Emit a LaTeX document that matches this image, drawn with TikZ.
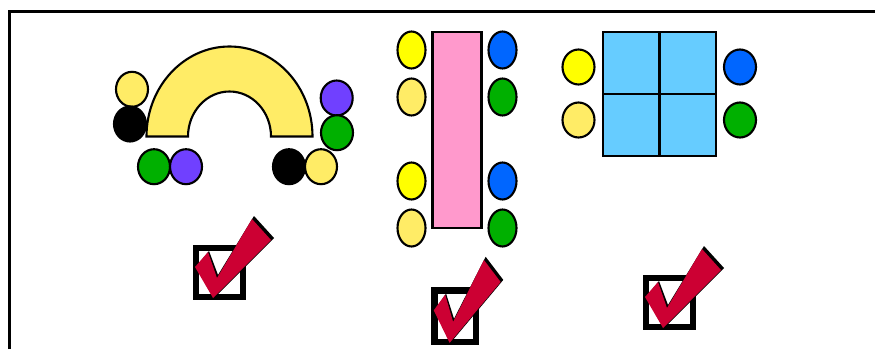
\documentclass[tikz,border=0pt]{standalone}
\usepackage{tikz}
\definecolor{paleyellow}{RGB}{255,236,102}
\definecolor{brightyellow}{RGB}{255,255,0}
\definecolor{seatblue}{RGB}{0,102,255}
\definecolor{seatgreen}{RGB}{0,176,0}
\definecolor{seatpurple}{RGB}{112,64,255}
\definecolor{tablepink}{RGB}{255,153,204}
\definecolor{tableblue}{RGB}{102,204,255}
\definecolor{tickred}{RGB}{204,0,51}
\tikzset{
    tableshape/.style={draw=black,line width=1.2pt,line join=miter},
    frameline/.style={draw=black,line width=1.5pt},
    seat/.style={draw=black,line width=1.2pt},
    tick/.pic={
        \fill[white] (3,3) rectangle (50,52);
        \draw[black,line width=3.8pt] (3,3) rectangle (50,52);
        \fill[black] (3,33) -- (16,49) -- (25,25) -- (61,84) -- (81,62) -- (21,2) -- cycle;
        \fill[tickred] (2,33) -- (15,48) -- (24,22) -- (59,81) -- (78,60) -- (20,2) -- cycle;
    }
}
\begin{document}
\begin{tikzpicture}[x=0.02cm,y=0.02cm]
    \useasboundingbox (0,0) rectangle (875,349);
    \draw[frameline] (9.5,0)--(9.5,337.5)--(875,337.5);
    % arch table
    \draw[tableshape,fill=paleyellow] (146.5,212.5) arc[start angle=180,end angle=0,x radius=83,y radius=90]
        -- (271,212.5) arc[start angle=0,end angle=180,x radius=41.5,y radius=45] -- cycle;
    % long table
    \draw[tableshape,fill=tablepink] (432.5,121) rectangle (481.5,317);
    % square tables
    \draw[tableshape,fill=tableblue] (603,193) rectangle (716,317);
    \draw[tableshape] (659.5,193)--(659.5,317);
    \draw[tableshape] (603,255)--(716,255);
    % seats around the arch
    \foreach \x/\y/\c in {132/259.7/paleyellow,130/225/black,336.7/251/seatpurple,337/216.3/seatgreen,
        154/182.3/seatgreen,186/182.3/seatpurple,289/182.3/black,321/182.3/paleyellow}
        \draw[seat,fill=\c] (\x,\y) ellipse[x radius=16,y radius=17.5];
    % seats along the long table
    \foreach \x/\y/\c in {411.5/299/brightyellow,411.5/252/paleyellow,411.5/168/brightyellow,411.5/121/paleyellow,
        502.5/299/seatblue,502.5/252/seatgreen,502.5/168/seatblue,502.5/121/seatgreen}
        \draw[seat,fill=\c] (\x,\y) ellipse[x radius=14,y radius=18.5];
    % seats beside the square tables
    \foreach \x/\y/\c in {578.5/282/brightyellow,578.5/229/paleyellow,740/282/seatblue,740/229/seatgreen}
        \draw[seat,fill=\c] (\x,\y) ellipse[x radius=16,y radius=17.5];
    % ticks
    \pic at (193,49) {tick};
    \pic[xscale=0.88,yscale=1.05] at (432,4) {tick};
    \pic at (643,19) {tick};
\end{tikzpicture}
\end{document}
